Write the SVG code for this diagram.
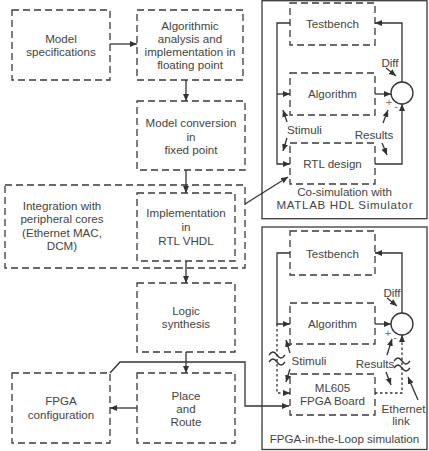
<svg xmlns="http://www.w3.org/2000/svg" width="429" height="451" viewBox="0 0 429 451">
<defs>
<style>
.box{fill:none;stroke:#3a3a3a;stroke-width:1.3;stroke-dasharray:7,4}
.panel{fill:none;stroke:#3a3a3a;stroke-width:1.3}
.ln{fill:none;stroke:#333;stroke-width:1.3}
.dot{fill:none;stroke:#333;stroke-width:1.3;stroke-dasharray:2.5,2.5}
.arr{marker-end:url(#ah)}
text{font-family:"Liberation Sans",Arial,sans-serif;font-size:11.6px;fill:#444;text-anchor:middle}
.sm{font-size:11px;fill:#777}
</style>
<marker id="ah" markerWidth="7" markerHeight="6" refX="7" refY="3" orient="auto" markerUnits="userSpaceOnUse">
<path d="M0,0 L7,3 L0,6 Z" fill="#333"/>
</marker>
</defs>
<rect width="429" height="451" fill="#fff"/>

<g id="model-spec"><rect class="box" x="12" y="10" width="98" height="70"/><text x="61" y="43">Model</text><text x="61" y="56">specifications</text></g>
<g id="algorithmic"><rect class="box" x="137" y="10" width="106" height="70"/><text x="190" y="30">Algorithmic</text><text x="190" y="43">analysis and</text><text x="190" y="56">implementation in</text><text x="190" y="69">floating point</text></g>
<g id="conversion"><rect class="box" x="137" y="101" width="108" height="69"/><text x="191" y="127">Model conversion</text><text x="191" y="141">in</text><text x="191" y="154">fixed point</text></g>
<g id="integration"><rect class="box" x="5" y="185" width="240" height="83"/><text x="62" y="210">Integration with</text><text x="62" y="223">peripheral cores</text><text x="62" y="237">(Ethernet MAC,</text><text x="62" y="250">DCM)</text></g>
<g id="implementation"><rect class="box" x="137" y="193" width="98" height="68"/><text x="186" y="217">Implementation</text><text x="186" y="231">in</text><text x="186" y="245">RTL VHDL</text></g>
<g id="synthesis"><rect class="box" x="137" y="283" width="98" height="69"/><text x="186" y="315">Logic</text><text x="186" y="328">synthesis</text></g>
<g id="place-route"><rect class="box" x="137" y="373" width="98" height="70"/><text x="186" y="400">Place</text><text x="186" y="413">and</text><text x="186" y="426">Route</text></g>
<g id="fpga-config"><rect class="box" x="12" y="373" width="98" height="70"/><text x="61" y="405">FPGA</text><text x="61" y="419">configuration</text></g>

<g id="cosim-panel"><rect class="panel" x="262" y="0.7" width="165" height="218"/><text x="344.5" y="196">Co-simulation with</text><text x="344.5" y="209" textLength="136" lengthAdjust="spacing">MATLAB HDL Simulator</text></g>
<g id="tb1"><rect class="box" x="290" y="3" width="85" height="42"/><text x="332.5" y="28">Testbench</text></g>
<g id="alg1"><rect class="box" x="290" y="73" width="85" height="42"/><text x="332.5" y="98">Algorithm</text></g>
<g id="rtl1"><rect class="box" x="290" y="143" width="85" height="41"/><text x="332.5" y="168">RTL design</text></g>
<g id="sum1"><circle cx="402" cy="93" r="11" fill="none" stroke="#333" stroke-width="1.3"/></g>

<g id="fil-panel"><rect class="panel" x="262" y="227" width="165" height="222.5"/><text x="344.5" y="443">FPGA-in-the-Loop simulation</text></g>
<g id="tb2"><rect class="box" x="290" y="231" width="85" height="44"/><text x="332.5" y="258">Testbench</text></g>
<g id="alg2"><rect class="box" x="290" y="303" width="85" height="41"/><text x="332.5" y="328">Algorithm</text></g>
<g id="ml605"><rect class="box" x="290" y="374" width="85" height="41"/><text x="332.5" y="392">ML605</text><text x="332.5" y="405">FPGA Board</text></g>
<g id="sum2"><circle cx="402" cy="324" r="11" fill="none" stroke="#333" stroke-width="1.3"/></g>

<g id="connectors">
<path class="ln arr" d="M110,44 H137"/>
<path class="ln arr" d="M186,80 V101"/>
<path class="ln arr" d="M186,170 V193"/>
<path class="ln arr" d="M186,261 V283"/>
<path class="ln arr" d="M186,352 V373"/>
<path class="ln arr" d="M137,408 H110"/>
<path class="ln arr" d="M110,373 L120,362 H245 V406 H289"/>
<path class="ln arr" d="M245,204 L288,177"/>

<path class="ln arr" d="M290,23 H277 V164 H290"/>
<path class="ln arr" d="M277,94 H290"/>
<path class="ln arr" d="M402,82 V23 H375"/>
<path class="ln arr" d="M375,94 H391"/>
<path class="ln arr" d="M375,164 H402 V104"/>
<path class="ln arr" d="M386,68 L396,76"/>
<path class="ln arr" d="M287,122 L283,110"/>
<path class="ln arr" d="M287,138 L283,151"/>
<path class="ln arr" d="M383,123 L388,110"/>
<path class="ln arr" d="M382,143 L387,155"/>

<path class="ln arr" d="M290,253 H277 V324 H290"/>
<path class="dot" d="M277,324 V393 H284"/>
<path class="ln arr" d="M284,393 H290"/>
<path class="ln arr" d="M402,313 V253 H375"/>
<path class="ln arr" d="M375,324 H391"/>
<path class="dot" d="M375,393 H402 V341"/>
<path class="ln arr" d="M402,342 V335"/>
<path class="ln arr" d="M387,298 L397,306"/>
<path class="ln arr" d="M290,353 L286,340"/>
<path class="ln arr" d="M290,369 L286,382"/>
<path class="ln arr" d="M387,355 L392,339"/>
<path class="ln arr" d="M386,372 L391,385"/>
<path class="ln arr" d="M418,400 L408,377"/>
<path class="ln" d="M269,355 c3,-4 5,-4 8,0 s5,4 8,0 M269,362 c3,-4 5,-4 8,0 s5,4 8,0"/>
<path class="ln" d="M394,361 c3,-4 5,-4 8,0 s5,4 8,0 M394,368 c3,-4 5,-4 8,0 s5,4 8,0"/>
</g>

<g id="labels">
<text x="390" y="67">Diff</text>
<text x="304.5" y="134">Stimuli</text>
<text x="374" y="139">Results</text>
<text class="sm" x="389" y="106">+</text>
<text class="sm" x="396" y="110">-</text>
<text x="392" y="297">Diff</text>
<text x="309" y="365">Stimuli</text>
<text x="375" y="368">Results</text>
<text class="sm" x="388" y="337">+</text>
<text class="sm" x="395" y="341">-</text>
<text x="403.5" y="413">Ethernet</text>
<text x="401" y="425">link</text>
</g>
</svg>
